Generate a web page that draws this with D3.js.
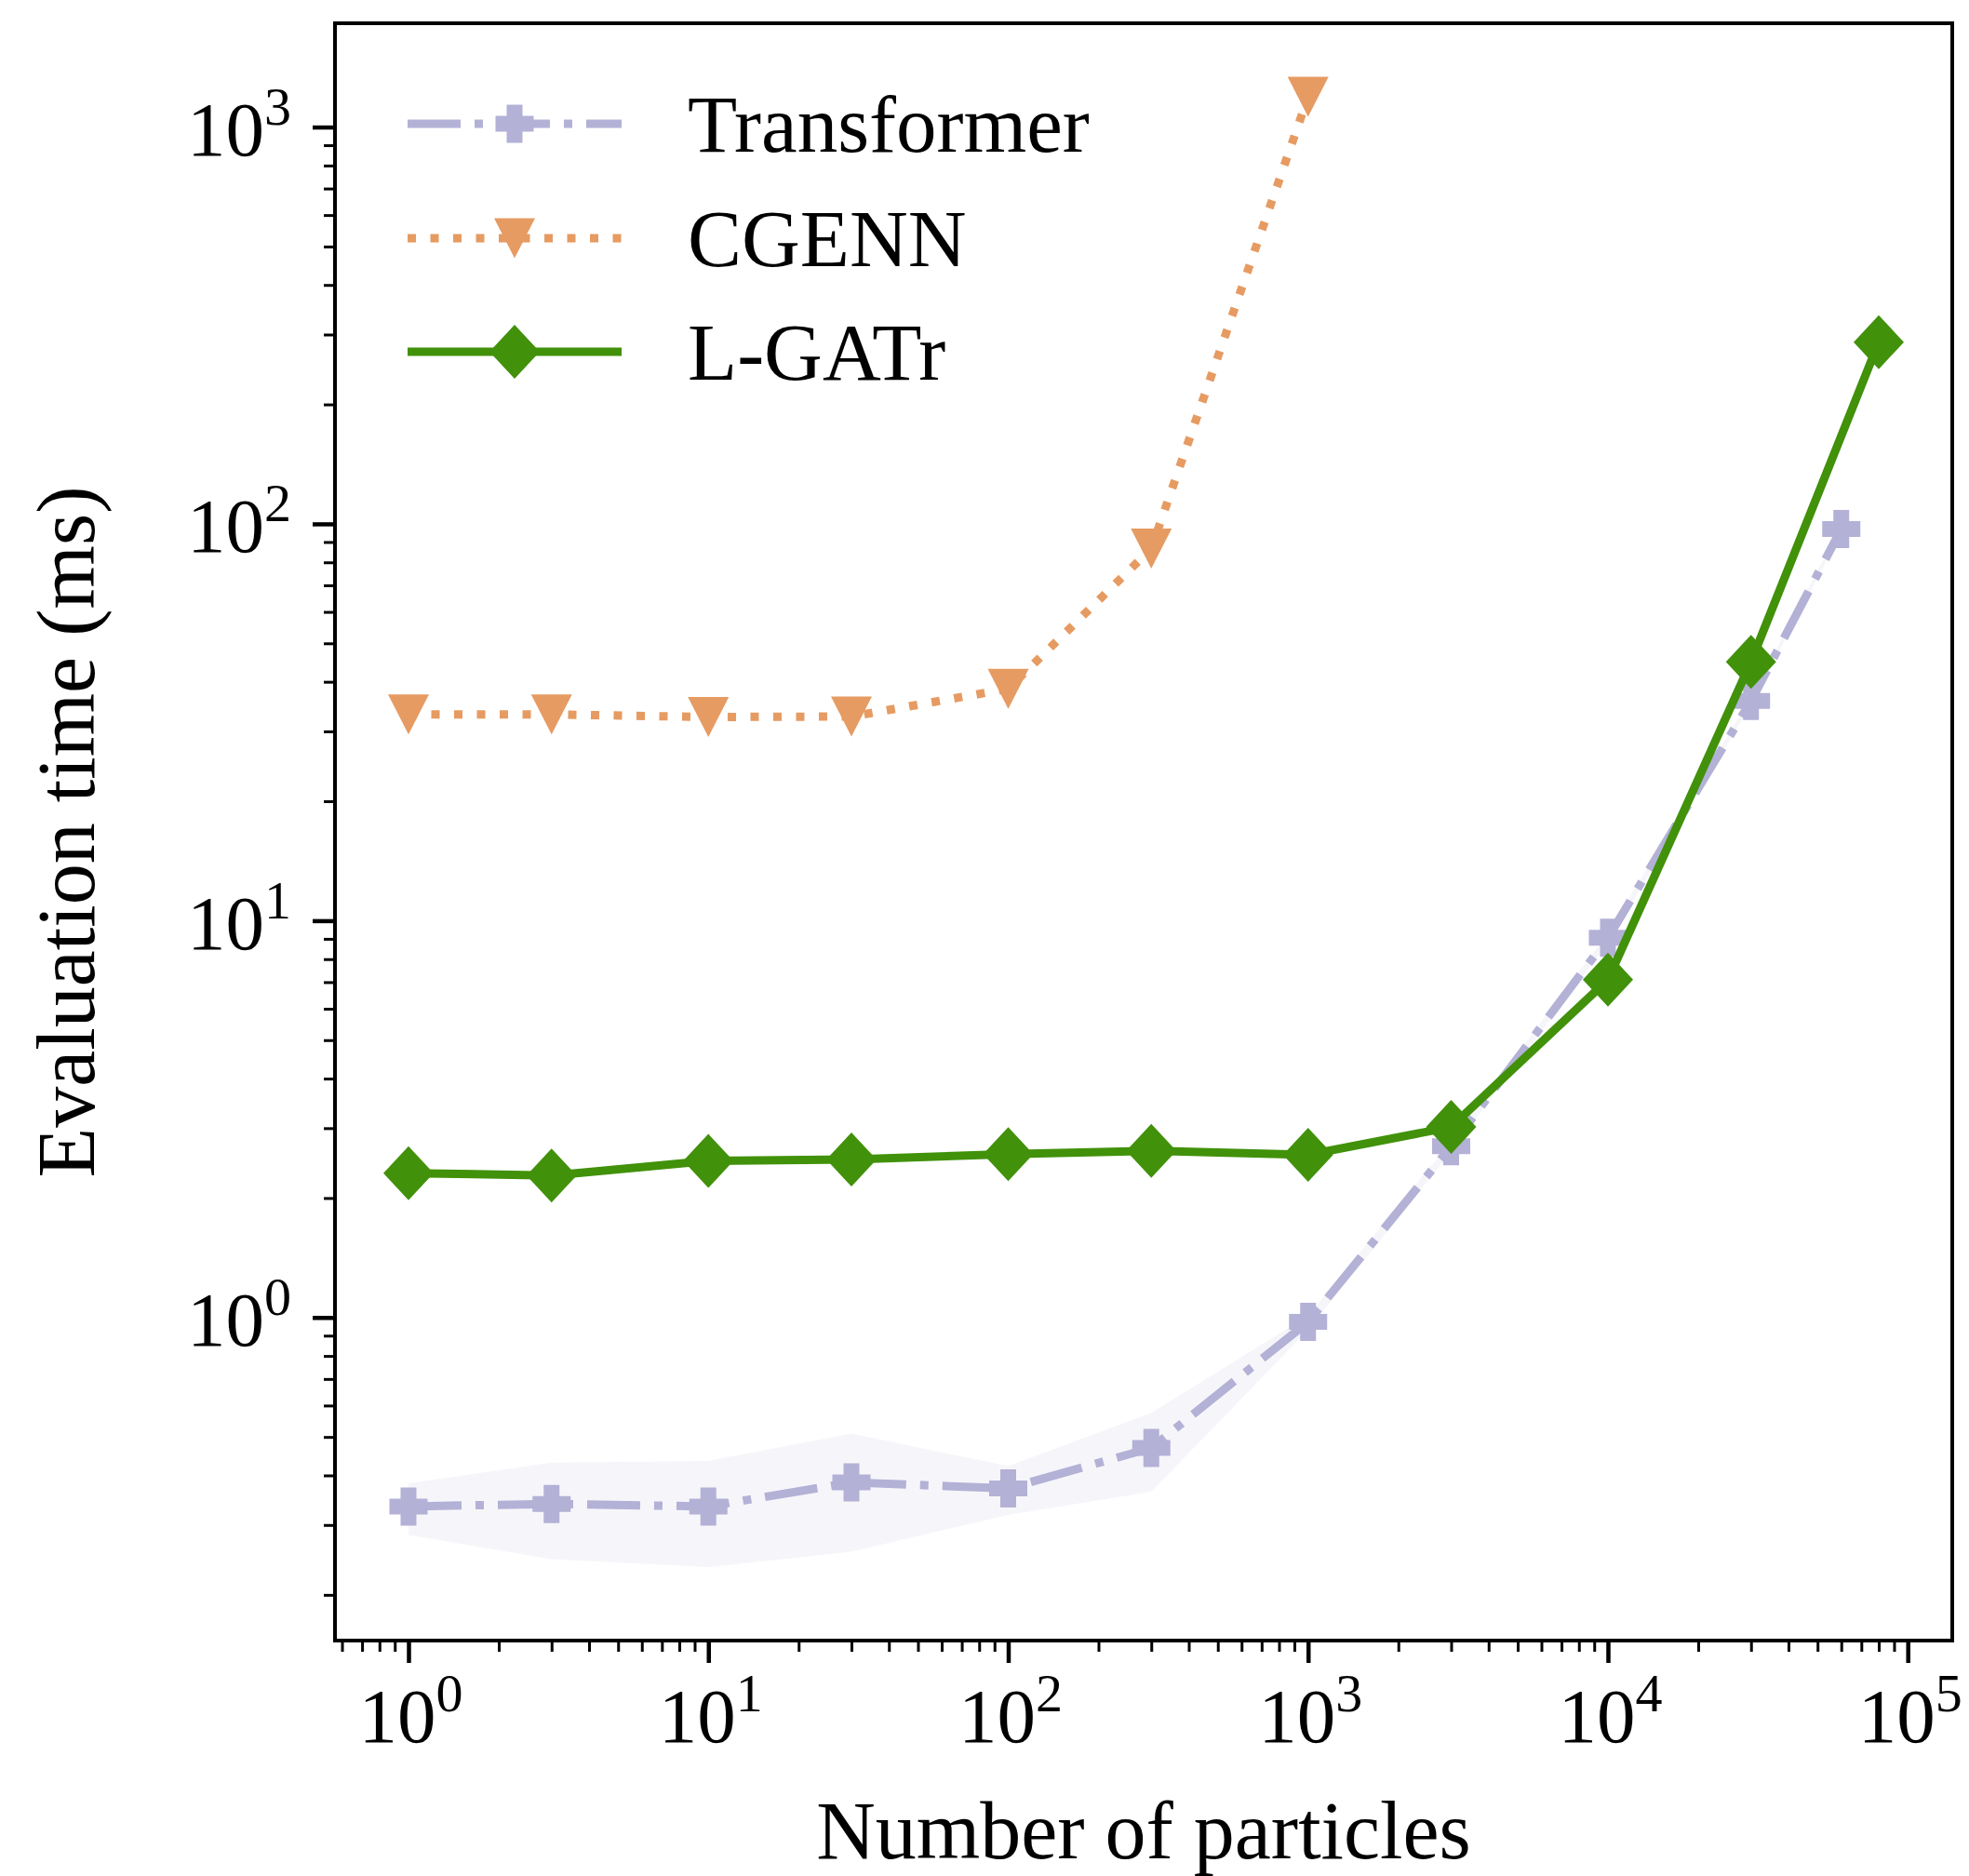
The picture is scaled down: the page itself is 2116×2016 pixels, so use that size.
<!DOCTYPE html>
<html>
<head>
<meta charset="utf-8">
<script src="https://cdn.jsdelivr.net/npm/d3@7"></script>
<style>
	html, body { margin: 0; padding: 0; background: #fff; }
	svg text { font-family: "Liberation Serif", "DejaVu Serif", serif; fill: #000; }
</style>
</head>
<body>
<svg id="chart"></svg>
<script>
// number of particles per series
const transformerN = [1, 3, 10, 30, 100, 300, 1000, 3000, 10000, 30000, 60000]
const cgennN = [1, 3, 10, 30, 100, 300, 1000]
const lgatrN = [1, 3, 10, 30, 100, 300, 1000, 3000, 10000, 30000, 80000]

// evaluation time in ms
const transformerTime = [0.334, 0.339, 0.334, 0.384, 0.371, 0.469, 0.975, 2.7, 9.05, 35.8, 97]
const transformerLow = [0.283, 0.246, 0.235, 0.257, 0.318, 0.364, 0.93, 2.62, 8.8, 35, 95]
const transformerHigh = [0.382, 0.431, 0.435, 0.51, 0.422, 0.575, 1.01, 2.78, 9.3, 36.6, 99]
const cgennTime = [33.1, 33.1, 32.6, 32.7, 38.4, 86.6, 1192]
const lgatrTime = [2.31, 2.28, 2.48, 2.5, 2.58, 2.63, 2.57, 3.02, 7.1, 44.9, 287]

const seriesNames = ["Transformer", "CGENN", "L-GATr"]
const colors = ["#b3b1d6", "#e69b62", "#41910a"]

const width = 2116
const height = 2016
const margin = { left: 360, right: 18, top: 25, bottom: 253 }

const svg = d3.select("#chart")
	.attr("width", width)
	.attr("height", height)

// matplotlib style 5% padding in log space
function padded(values) {
	const lo = Math.log10(d3.min(values))
	const hi = Math.log10(d3.max(values))
	const pad = (hi - lo) * 0.05
	return [Math.pow(10, lo - pad), Math.pow(10, hi + pad)]
}

const x = d3.scaleLog()
	.domain(padded(transformerN.concat(cgennN, lgatrN)))
	.range([margin.left, width - margin.right]);

const y = d3.scaleLog()
	.domain(padded(transformerLow.concat(transformerHigh, cgennTime, lgatrTime)))
	.range([height - margin.bottom, margin.top]);

const x0 = margin.left
const x1 = width - margin.right
const y0 = height - margin.bottom
const y1 = margin.top

const isMajor = v => Math.abs(Math.log10(v) - Math.round(Math.log10(v))) < 1e-9
const xMinor = x.ticks().filter(v => !isMajor(v))
const xMajor = x.ticks().filter(isMajor)
const yMinor = y.ticks().filter(v => !isMajor(v))
const yMajor = y.ticks().filter(isMajor)

// axes ticks
function styleTicks(g, w) {
	g.select(".domain").remove()
	g.selectAll(".tick line").attr("stroke", "#000").attr("stroke-width", w)
	g.selectAll(".tick text").remove()
}

svg.append("g")
	.attr("transform", "translate(0," + y0 + ")")
	.call(d3.axisBottom(x).tickValues(xMinor).tickSize(12).tickFormat(""))
	.call(g => styleTicks(g, 3));

const xAxis = svg.append("g")
	.attr("transform", "translate(0," + y0 + ")")
	.call(d3.axisBottom(x).tickValues(xMajor).tickSize(24).tickFormat(""))
	.call(g => styleTicks(g, 4.5));

svg.append("g")
	.attr("transform", "translate(" + x0 + ",0)")
	.call(d3.axisLeft(y).tickValues(yMinor).tickSize(12).tickFormat(""))
	.call(g => styleTicks(g, 3));

const yAxis = svg.append("g")
	.attr("transform", "translate(" + x0 + ",0)")
	.call(d3.axisLeft(y).tickValues(yMajor).tickSize(24).tickFormat(""))
	.call(g => styleTicks(g, 4.5));

function powerLabel(sel, anchor, tx, ty) {
	const t = sel.append("text")
		.attr("x", tx)
		.attr("y", ty)
		.attr("text-anchor", anchor)
		.style("font-size", "83px")
		.text("10")
	t.append("tspan")
		.attr("dy", -33)
		.style("font-size", "58px")
		.text(d => Math.round(Math.log10(d)))
}

xAxis.selectAll(".tick").call(sel => powerLabel(sel, "middle", 2, 109));
yAxis.selectAll(".tick").call(sel => powerLabel(sel, "end", -47, 30));

// axis titles
svg.append("text")
	.attr("x", (x0 + x1) / 2)
	.attr("y", 1997)
	.attr("text-anchor", "middle")
	.style("font-size", "88px")
	.text("Number of particles");

svg.append("text")
	.attr("transform", "translate(101," + ((y0 + y1) / 2) + ") rotate(-90)")
	.attr("text-anchor", "middle")
	.style("font-size", "88px")
	.text("Evaluation time (ms)");

// markers
const markers = [
	function plus() {
		const s = 20.5, a = 8.5
		return `M${-a},${-s}H${a}V${-a}H${s}V${a}H${a}V${s}H${-a}V${a}H${-s}V${-a}H${-a}Z`
	},
	function triangleDown() {
		return "M-22,-21.5L22,-21.5L0,21.5Z"
	},
	function diamond() {
		return "M0,-29L27,0L0,29L-27,0Z"
	}
]
const dashes = ["57,15,9,15", "9,15.5", null]

const plot = svg.append("g")

// spread of the transformer timings
const band = transformerN.map((n, i) => ({ n: n, lo: transformerLow[i], hi: transformerHigh[i] }))
plot.append("path")
	.datum(band)
	.attr("fill", colors[0])
	.attr("fill-opacity", 0.12)
	.attr("d", d3.area()
		.x(d => x(d.n))
		.y0(d => y(d.lo))
		.y1(d => y(d.hi)));

const series = [
	transformerN.map((n, i) => ({ n: n, t: transformerTime[i] })),
	cgennN.map((n, i) => ({ n: n, t: cgennTime[i] })),
	lgatrN.map((n, i) => ({ n: n, t: lgatrTime[i] }))
]

const line = d3.line()
	.x(d => x(d.n))
	.y(d => y(d.t))

series.forEach(function (data, k) {
	const g = plot.append("g")
	g.append("path")
		.datum(data)
		.attr("fill", "none")
		.attr("stroke", colors[k])
		.attr("stroke-width", 9)
		.attr("stroke-dasharray", dashes[k])
		.attr("d", line)
	g.selectAll("path.marker")
		.data(data)
		.enter()
		.append("path")
		.attr("class", "marker")
		.attr("transform", d => "translate(" + x(d.n) + "," + y(d.t) + ")")
		.attr("fill", colors[k])
		.attr("d", markers[k]())
})

// frame
svg.append("rect")
	.attr("x", x0)
	.attr("y", y1)
	.attr("width", x1 - x0)
	.attr("height", y0 - y1)
	.attr("fill", "none")
	.attr("stroke", "#000")
	.attr("stroke-width", 4);

// legend
const legend = svg.append("g")
const rowY = [133, 256, 378]
seriesNames.forEach(function (name, k) {
	legend.append("line")
		.attr("x1", 438)
		.attr("x2", 668)
		.attr("y1", rowY[k])
		.attr("y2", rowY[k])
		.attr("stroke", colors[k])
		.attr("stroke-width", 9)
		.attr("stroke-dasharray", dashes[k])
	legend.append("path")
		.attr("transform", "translate(553," + rowY[k] + ")")
		.attr("fill", colors[k])
		.attr("d", markers[k]())
	legend.append("text")
		.attr("x", 739)
		.attr("y", rowY[k] + 30)
		.style("font-size", "87px")
		.text(name)
})
</script>
</body>
</html>
